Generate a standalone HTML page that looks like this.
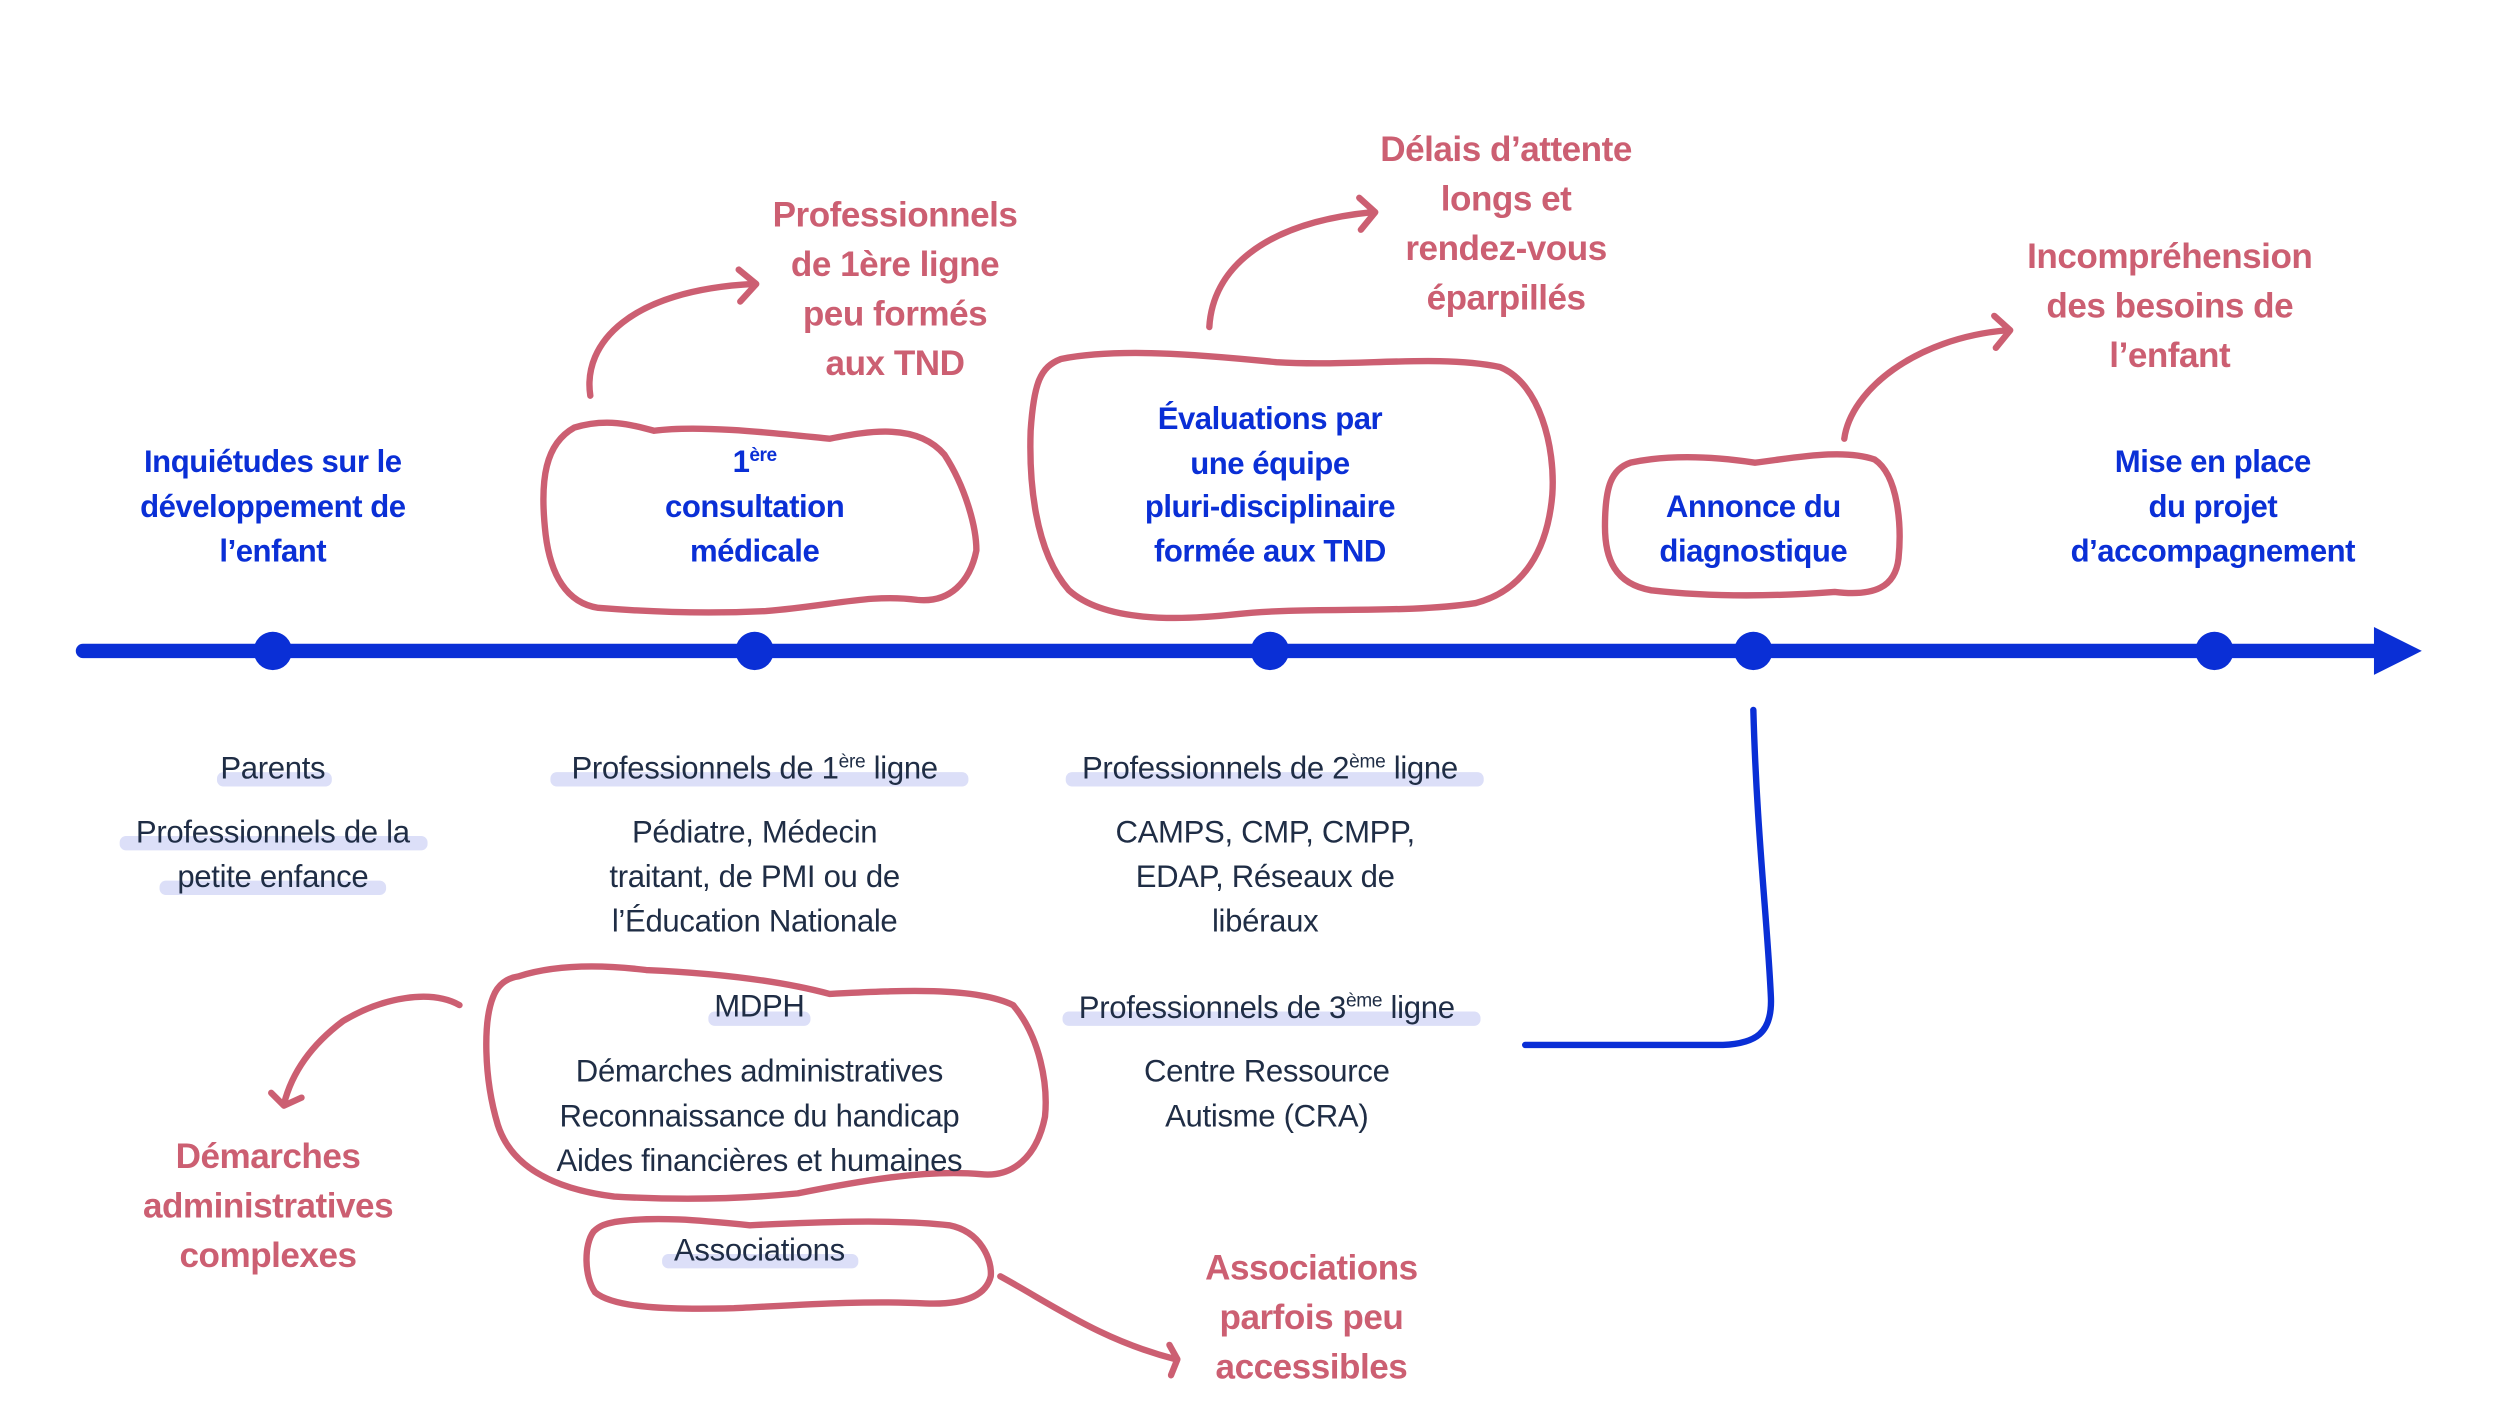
<!DOCTYPE html>
<html><head><meta charset="utf-8"><style>
html,body{margin:0;padding:0;background:#fff;}
svg{display:block;}
.b{font-family:"Liberation Sans",sans-serif;font-weight:bold;font-size:19.5px;fill:#0a2fd6;text-anchor:middle;letter-spacing:-0.3px;}
.r{font-family:"Liberation Sans",sans-serif;font-weight:bold;font-size:22px;fill:#cc5f72;text-anchor:middle;letter-spacing:-0.3px;}
.d{font-family:"Liberation Sans",sans-serif;font-size:19.5px;fill:#1f2d45;text-anchor:middle;letter-spacing:-0.2px;}
.hl{fill:#dcdff8;}
.rs{fill:none;stroke:#cc5f72;stroke-width:4;stroke-linecap:round;stroke-linejoin:round;}
</style></head><body>
<svg width="2500" height="1406" viewBox="0 0 1567 881" preserveAspectRatio="xMinYMin meet" xmlns="http://www.w3.org/2000/svg">
<line x1="52" y1="408" x2="1495" y2="408" stroke="#0a2fd6" stroke-width="9" stroke-linecap="round"/>
<polygon points="1488,393 1518,408 1488,423" fill="#0a2fd6"/>
<g fill="#0a2fd6">
<circle cx="171" cy="408" r="12"/><circle cx="473" cy="408" r="12"/><circle cx="796" cy="408" r="12"/><circle cx="1099" cy="408" r="12"/><circle cx="1388" cy="408" r="12"/>
</g>
<path d="M1099,445 C1101,520 1108,580 1110,625 C1111,648 1100,654 1080,655 L956,655" fill="none" stroke="#0a2fd6" stroke-width="4" stroke-linecap="round"/>

<path class="rs" d="M360,268 C380,262 395,266 410,270 C440,266 490,272 520,275 C545,270 575,265 592,285 C605,305 612,330 612,345 C608,365 595,378 575,376 C545,372 520,380 480,383 C440,385 400,383 375,381 C355,378 345,360 342,335 C338,300 342,278 360,268 Z"/>
<path class="rs" d="M665,225 C700,218 750,222 800,227 C850,230 900,222 940,230 C965,240 975,280 973,310 C970,345 955,370 925,378 C880,385 820,380 775,385 C730,390 690,388 670,370 C648,345 645,300 646,270 C648,240 652,230 665,225 Z"/>
<path class="rs" d="M1022,290 C1050,284 1080,287 1100,290 C1125,287 1155,281 1175,288 C1190,298 1192,330 1190,350 C1188,368 1175,374 1150,371 C1110,374 1070,374 1035,370 C1012,366 1006,350 1006,330 C1006,305 1010,294 1022,290 Z"/>
<path class="rs" d="M325,612 C350,604 380,605 405,608 C450,610 490,615 520,623 C560,621 610,618 635,630 C652,650 657,680 655,700 C650,725 635,738 615,736 C580,733 540,740 500,748 C460,752 420,752 385,750 C345,745 320,730 312,705 C303,675 303,640 309,625 C312,617 318,613 325,612 Z"/>
<path class="rs" d="M385,766 C410,762 440,765 470,768 C510,766 560,764 595,768 C615,772 622,790 621,800 C618,812 605,818 580,817 C540,815 500,818 460,820 C420,821 385,820 373,810 C366,800 366,780 372,772 C376,768 380,767 385,766 Z"/>

<path class="rs" d="M370,248 C365,215 395,182 472,178"/>
<path class="rs" d="M463,169 L474,178 L464,189"/>
<path class="rs" d="M758,205 C760,170 790,140 860,133"/>
<path class="rs" d="M852,124 L862,133 L853,144"/>
<path class="rs" d="M1156,275 C1160,245 1200,212 1258,207"/>
<path class="rs" d="M1250,198 L1260,207 L1251,218"/>
<path class="rs" d="M288,630 C270,620 240,625 215,640 C195,655 183,672 178,692"/>
<path class="rs" d="M170,685 L178,693 L189,688"/>
<path class="rs" d="M627,800 C660,818 690,840 737,852"/>
<path class="rs" d="M733,843 L738,852 L734,862"/>

<rect class="hl" x="136" y="484" width="72" height="9" rx="4"/>
<rect class="hl" x="75" y="524" width="193" height="9" rx="4"/>
<rect class="hl" x="100" y="552" width="142" height="9" rx="4"/>
<rect class="hl" x="345" y="484" width="262" height="9" rx="4"/>
<rect class="hl" x="668" y="484" width="262" height="9" rx="4"/>
<rect class="hl" x="444" y="634" width="64" height="9" rx="4"/>
<rect class="hl" x="666" y="634" width="262" height="9" rx="4"/>
<rect class="hl" x="415" y="786" width="123" height="9" rx="4"/>

<text class="r" x="561" y="142">Professionnels</text>
<text class="r" x="561" y="173">de 1ère ligne</text>
<text class="r" x="561" y="204">peu formés</text>
<text class="r" x="561" y="235">aux TND</text>
<text class="r" x="944" y="101">Délais d’attente</text>
<text class="r" x="944" y="132">longs et</text>
<text class="r" x="944" y="163">rendez-vous</text>
<text class="r" x="944" y="194">éparpillés</text>
<text class="r" x="1360" y="168">Incompréhension</text>
<text class="r" x="1360" y="199">des besoins de</text>
<text class="r" x="1360" y="230">l’enfant</text>

<text class="b" x="171" y="296">Inquiétudes sur le</text>
<text class="b" x="171" y="324">développement de</text>
<text class="b" x="171" y="352">l’enfant</text>
<text class="b" x="473" y="296">1<tspan font-size="12" dy="-7">ère</tspan></text>
<text class="b" x="473" y="324">consultation</text>
<text class="b" x="473" y="352">médicale</text>
<text class="b" x="796" y="269">Évaluations par</text>
<text class="b" x="796" y="297">une équipe</text>
<text class="b" x="796" y="324">pluri-disciplinaire</text>
<text class="b" x="796" y="352">formée aux TND</text>
<text class="b" x="1099" y="324">Annonce du</text>
<text class="b" x="1099" y="352">diagnostique</text>
<text class="b" x="1387" y="296">Mise en place</text>
<text class="b" x="1387" y="324">du projet</text>
<text class="b" x="1387" y="352">d’accompagnement</text>

<text class="d" x="171" y="488">Parents</text>
<text class="d" x="171" y="528">Professionnels de la</text>
<text class="d" x="171" y="556">petite enfance</text>
<text class="d" x="473" y="488">Professionnels de 1<tspan font-size="12" dy="-7">ère</tspan><tspan dy="7"> ligne</tspan></text>
<text class="d" x="473" y="528">Pédiatre, Médecin</text>
<text class="d" x="473" y="556">traitant, de PMI ou de</text>
<text class="d" x="473" y="584">l’Éducation Nationale</text>
<text class="d" x="796" y="488">Professionnels de 2<tspan font-size="12" dy="-7">ème</tspan><tspan dy="7"> ligne</tspan></text>
<text class="d" x="793" y="528">CAMPS, CMP, CMPP,</text>
<text class="d" x="793" y="556">EDAP, Réseaux de</text>
<text class="d" x="793" y="584">libéraux</text>
<text class="d" x="476" y="637">MDPH</text>
<text class="d" x="476" y="678">Démarches administratives</text>
<text class="d" x="476" y="706">Reconnaissance du handicap</text>
<text class="d" x="476" y="734">Aides financières et humaines</text>
<text class="d" x="794" y="638">Professionnels de 3<tspan font-size="12" dy="-7">ème</tspan><tspan dy="7"> ligne</tspan></text>
<text class="d" x="794" y="678">Centre Ressource</text>
<text class="d" x="794" y="706">Autisme (CRA)</text>
<text class="d" x="476" y="790">Associations</text>

<text class="r" x="168" y="732">Démarches</text>
<text class="r" x="168" y="763">administratives</text>
<text class="r" x="168" y="794">complexes</text>
<text class="r" x="822" y="802">Associations</text>
<text class="r" x="822" y="833">parfois peu</text>
<text class="r" x="822" y="864">accessibles</text>
</svg>
</body></html>
